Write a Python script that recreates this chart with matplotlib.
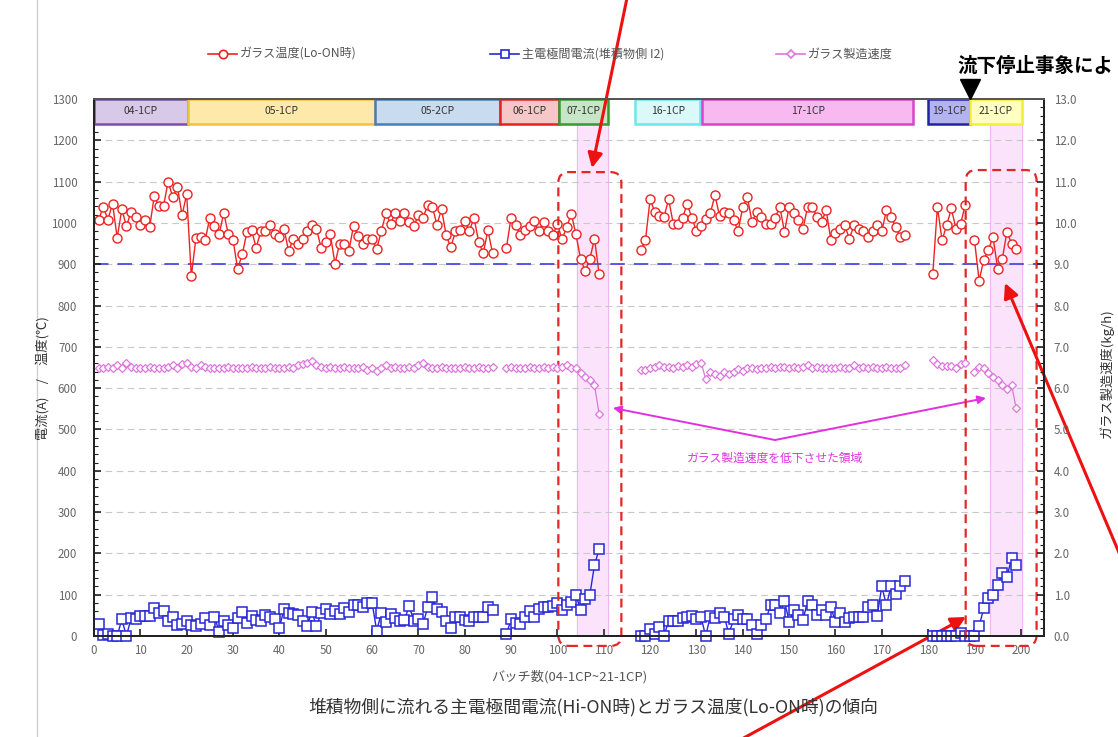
import numpy as np
import matplotlib
matplotlib.use('Agg')
import matplotlib.pyplot as plt
from matplotlib.patches import Rectangle, FancyBboxPatch
from matplotlib.lines import Line2D
from matplotlib.ticker import MultipleLocator, FormatStrFormatter

plt.rcParams['font.family'] = ['Noto Sans CJK JP', 'DejaVu Sans']

# ---------------- data ----------------
# glass temperature (Lo-ON) [deg C], segments start at the given batch number
temp_starts = [1, 89, 118, 181, 190]
temp_a = [1008, 1039, 1008, 1047, 964, 1033, 992, 1027, 1015, 996,
          1008, 989, 1065, 1041, 1041, 1100, 1062, 1088, 1019, 1069,
          871, 964, 966, 959, 1013, 992, 972, 1024, 972, 959,
          889, 924, 978, 982, 940, 980, 980, 996, 972, 966,
          986, 931, 962, 950, 961, 980, 996, 986, 940, 954,
          972, 901, 950, 950, 932, 993, 968, 950, 962, 962,
          937, 980, 1024, 998, 1024, 1004, 1024, 1002, 992, 1019,
          1013, 1043, 1039, 996, 1033, 970, 941, 980, 984, 1004,
          980, 1013, 954, 927, 982, 927]
temp_b = [940, 1013, 996, 970, 984, 993, 1004, 980, 1002, 980,
          970, 997, 960, 990, 1022, 972, 913, 883, 913, 962, 876]
temp_c = [935, 958, 1057, 1027, 1016, 1015, 1057, 998, 998, 1013,
          1045, 1013, 980, 993, 1010, 1024, 1067, 1016, 1027, 1024,
          1008, 980, 1039, 1062, 1002, 1027, 1015, 998, 998, 1013,
          1039, 978, 1039, 1024, 1008, 986, 1039, 1039, 1015, 1002,
          1031, 959, 976, 986, 994, 962, 994, 986, 980, 966,
          980, 994, 980, 1031, 1015, 990, 966, 970]
temp_d = [876, 1039, 958, 994, 1035, 986, 998, 1043]
temp_e = [958, 860, 911, 935, 966, 889, 913, 978, 950, 937]

# main electrode current (deposit side I2) [A]
cur_starts = [1, 89, 118, 181]
cur_a = [29, 2, 6, 0, 0, 40, 0, 43, 40, 48,
         48, 48, 67, 55, 61, 37, 47, 27, 29, 37,
         27, 23, 29, 43, 27, 47, 10, 37, 27, 19,
         43, 59, 31, 48, 39, 37, 51, 47, 40, 20,
         65, 55, 53, 52, 37, 24, 59, 24, 55, 65,
         53, 61, 53, 67, 59, 75, 75, 69, 81, 81,
         13, 55, 35, 53, 44, 36, 39, 73, 37, 41,
         29, 69, 94, 65, 59, 37, 19, 47, 47, 39,
         36, 47, 47, 47, 69, 63]
cur_b = [5, 40, 31, 29, 47, 61, 47, 65, 69, 71,
         73, 79, 63, 75, 82, 100, 63, 90, 100, 172, 210]
cur_c = [0, 0, 16, 6, 21, 0, 37, 37, 37, 43,
         47, 49, 40, 45, 0, 48, 44, 56, 47, 5,
         40, 52, 41, 40, 27, 6, 27, 40, 75, 75,
         55, 85, 35, 63, 51, 39, 85, 75, 51, 63,
         51, 69, 35, 55, 35, 43, 47, 47, 47, 69,
         75, 49, 120, 75, 121, 102, 121, 134]
cur_d = [0, 0, 0, 0, 0, 0, 8, 0, 0, 0,
         24, 67, 91, 99, 123, 153, 143, 188, 172]

# glass production rate [kg/h]
rate_starts = [1, 89, 118, 181, 190]
rate_a = [6.50, 6.48, 6.52, 6.50, 6.55, 6.50, 6.62, 6.52, 6.50, 6.48,
          6.50, 6.52, 6.50, 6.50, 6.48, 6.52, 6.55, 6.50, 6.58, 6.62,
          6.52, 6.50, 6.55, 6.52, 6.50, 6.50, 6.48, 6.50, 6.52, 6.50,
          6.50, 6.48, 6.50, 6.52, 6.50, 6.50, 6.50, 6.52, 6.50, 6.48,
          6.50, 6.52, 6.50, 6.55, 6.58, 6.60, 6.65, 6.55, 6.52, 6.50,
          6.52, 6.50, 6.50, 6.52, 6.50, 6.48, 6.50, 6.52, 6.45, 6.50,
          6.42, 6.48, 6.55, 6.50, 6.52, 6.50, 6.50, 6.52, 6.50, 6.55,
          6.62, 6.52, 6.50, 6.50, 6.52, 6.50, 6.50, 6.48, 6.50, 6.52,
          6.50, 6.50, 6.52, 6.50, 6.50, 6.52]
rate_b = [6.50, 6.52, 6.50, 6.48, 6.50, 6.52, 6.50, 6.50, 6.52, 6.50,
          6.52, 6.50, 6.52, 6.55, 6.50, 6.48, 6.36, 6.28, 6.20, 6.08, 5.37]
rate_c = [6.43, 6.45, 6.48, 6.52, 6.56, 6.52, 6.52, 6.50, 6.54, 6.52,
          6.56, 6.52, 6.58, 6.62, 6.22, 6.38, 6.35, 6.30, 6.38, 6.35,
          6.38, 6.46, 6.42, 6.48, 6.50, 6.46, 6.50, 6.50, 6.52, 6.50,
          6.52, 6.52, 6.50, 6.52, 6.50, 6.52, 6.55, 6.50, 6.52, 6.50,
          6.50, 6.48, 6.50, 6.52, 6.48, 6.50, 6.55, 6.50, 6.52, 6.50,
          6.52, 6.50, 6.50, 6.52, 6.50, 6.50, 6.50, 6.55]
rate_d = [6.68, 6.58, 6.54, 6.54, 6.54, 6.50, 6.58, 6.60]
rate_e = [6.38, 6.52, 6.50, 6.36, 6.28, 6.20, 6.08, 5.98, 6.08, 5.51]

# campaign bands (batch ranges)
band_names = ['04-1CP', '05-1CP', '05-2CP', '06-1CP', '07-1CP',
              '16-1CP', '17-1CP', '19-1CP', '21-1CP']
band_start = [0, 20.3, 60.7, 87.7, 100.4, 116.8, 131.2, 180.0, 189.0]
band_end = [20.3, 60.7, 87.7, 100.4, 111.0, 130.8, 176.8, 189.0, 200.3]
band_face = ['#d9c9e8', '#fde9aa', '#c9dcef', '#f7c6c6', '#c6e6c6',
             '#dcf9f9', '#f7b9f0', '#b3b3f2', '#ffffc2']
band_edge = ['#7b4fa3', '#f0c23c', '#4a7db3', '#e02424', '#2f9e2f',
             '#6fe6e6', '#d844d0', '#23239e', '#f2ee3a']

# reduced production-rate regions
low_rate_start = [104.3, 193.3]
low_rate_end = [111.0, 200.3]

x_ticks = list(range(0, 201, 10))
temp_limit = 900

# ---------------- figure ----------------
W, H = 1118, 737
fig = plt.figure(figsize=(W / 100, H / 100), dpi=100)
fig.patch.set_facecolor('white')
L, R, T, B = 94, 1044, 99, 636
ax = fig.add_axes([L / W, 1 - B / H, (R - L) / W, (B - T) / H])
ax2 = ax.twinx()

ax.set_xlim(0, 205)
ax.set_ylim(0, 1300)
ax2.set_ylim(0, 13)

tick_col = '#666666'
ax.set_xticks(x_ticks)
ax.yaxis.set_major_locator(MultipleLocator(100))
ax.yaxis.set_minor_locator(MultipleLocator(20))
ax2.yaxis.set_major_locator(MultipleLocator(1))
ax2.yaxis.set_minor_locator(MultipleLocator(0.2))
ax2.yaxis.set_major_formatter(FormatStrFormatter('%.1f'))

for a in (ax, ax2):
    a.tick_params(axis='both', which='major', direction='in', length=5,
                  width=1.2, labelsize=8.3, labelcolor=tick_col, color='#222222')
    a.tick_params(axis='y', which='minor', direction='in', length=3,
                  width=0.8, color='#222222')
ax.tick_params(axis='y', pad=12)
ax2.tick_params(axis='y', pad=7)
ax.tick_params(axis='x', pad=6)

for a in (ax, ax2):
    for s in a.spines.values():
        s.set_color('#222222')
        s.set_linewidth(1.4)
    a.spines['top'].set_color('#555555')

# grid
for v in range(100, 1300, 100):
    ax.axhline(v, color='#c8c8c8', lw=0.8, ls=(0, (6, 4)), zorder=0.6)
ax.axhline(temp_limit, color='#4a4ae6', lw=1.3, ls=(0, (8, 5)), zorder=1.5)

# low rate shading
for s, e in zip(low_rate_start, low_rate_end):
    ax.axvspan(s, e, color='#fbe4fb', zorder=0.4)
    ax.axvline(s, color='#f0b8f0', lw=0.8, zorder=0.5)
    ax.axvline(e, color='#f0b8f0', lw=0.8, zorder=0.5)

# bands
for n, s, e, fc, ec in zip(band_names, band_start, band_end, band_face, band_edge):
    ax.add_patch(Rectangle((s, 1240), e - s, 60, facecolor=fc, edgecolor=ec,
                           lw=1.8, zorder=3, clip_on=False))
    ax.text((s + e) / 2, 1270, n, ha='center', va='center', fontsize=7.5,
            color='#333333', zorder=4)

red = '#ee2222'
blue = '#2727d6'
mag = '#dd77dd'


def plot_segments(a, starts, segs, **kw):
    for s, seg in zip(starts, segs):
        xs = np.arange(s, s + len(seg))
        a.plot(xs, seg, **kw)


plot_segments(ax, temp_starts, [temp_a, temp_b, temp_c, temp_d, temp_e],
              color=red, lw=1.0, marker='o', ms=6.5, mfc='white', mec=red,
              mew=1.0, zorder=5)
plot_segments(ax, cur_starts, [cur_a, cur_b, cur_c, cur_d],
              color=blue, lw=1.0, marker='s', ms=6.5, mfc='white', mec=blue,
              mew=1.1, zorder=5, clip_on=False)
plot_segments(ax2, rate_starts, [rate_a, rate_b, rate_c, rate_d, rate_e],
              color=mag, lw=0.9, marker='D', ms=4.2, mfc='white', mec=mag,
              mew=0.9, zorder=5)

# red dashed rounded boxes
for x0, x1, y0, y1 in [(100.2, 113.8, -24, 1123), (188.1, 203.4, -24, 1128)]:
    bx = FancyBboxPatch((x0, y0), x1 - x0, y1 - y0,
                        boxstyle='round,pad=0,rounding_size=2.3',
                        mutation_aspect=11.2, fill=False, edgecolor='#e32626',
                        lw=1.6, ls=(0, (4, 2.5)), clip_on=False, zorder=6)
    ax.add_patch(bx)

# axis labels
ax.set_xlabel('バッチ数(04-1CP~21-1CP)', fontsize=9.5, color='#555555', labelpad=9)
fig.text(43 / W, 1 - 378 / H, '電流(A)\u3000/\u3000温度(℃)', rotation=90, ha='center',
         va='center', fontsize=9.5, color='#333333')
fig.text(1107 / W, 1 - 373 / H, 'ガラス製造速度(kg/h)', rotation=90, ha='center',
         va='center', fontsize=9.5, color='#333333')
fig.text(593 / W, 1 - 707 / H,
         '堆積物側に流れる主電極間電流(Hi-ON時)とガラス温度(Lo-ON時)の傾向',
         ha='center', va='center', fontsize=12.8, color='#333333')

# legend (manual)
leg_y = 1 - 54 / H
legend_items = [(208, 'ガラス温度(Lo-ON時)', red, 'o', 6),
                (490, '主電極間電流(堆積物側 I2)', blue, 's', 6),
                (776, 'ガラス製造速度', mag, 'D', 4.5)]
for px, lab, c, m, ms in legend_items:
    fig.add_artist(Line2D([px / W, (px + 29) / W], [leg_y, leg_y], color=c, lw=1.2,
                          transform=fig.transFigure))
    fig.add_artist(Line2D([(px + 14.5) / W], [leg_y], color=c, marker=m, ms=ms,
                          mfc='white', mec=c, mew=1.2, transform=fig.transFigure))
    fig.text((px + 32) / W, leg_y, lab, ha='left', va='center', fontsize=8.7,
             color='#555555')

# annotation text (kept inside the figure)
fig.text(957 / W, 1 - 66 / H, '流下停止事象によ', ha='left', va='center',
         fontsize=14, fontweight='bold', color='black')
fig.add_artist(Line2D([970 / W], [1 - 89 / H], marker='v', ms=15, color='black',
                      transform=fig.transFigure))
fig.text(775 / W, 1 - 458 / H, 'ガラス製造速度を低下させた領域', ha='center',
         va='center', fontsize=8.5, color='#dd33dd')

# magenta arrows
for tx, ty in [(613, 408), (986, 398)]:
    ax.annotate('', xy=(tx, H - ty), xytext=(775, H - 440), xycoords='figure pixels',
                textcoords='figure pixels',
                arrowprops=dict(arrowstyle='-|>', color='#e030e0', lw=1.4,
                                mutation_scale=12, shrinkA=0, shrinkB=0))

# red arrows
for (sx, sy), (ex, ey) in [((627, -2), (592, 168)), ((740, 740), (966, 617)),
                           ((1120, 555), (1005, 283))]:
    ax.annotate('', xy=(ex, H - ey), xytext=(sx, H - sy), xycoords='figure pixels',
                textcoords='figure pixels',
                arrowprops=dict(arrowstyle='-|>', color='#ee1111', lw=2.2,
                                mutation_scale=22, shrinkA=0, shrinkB=0))

# outer frame line
fig.add_artist(Line2D([37 / W, 37 / W], [0, 1], color='#d0d0d0', lw=1.0,
                      transform=fig.transFigure))

fig.savefig('out.png', dpi=100)
